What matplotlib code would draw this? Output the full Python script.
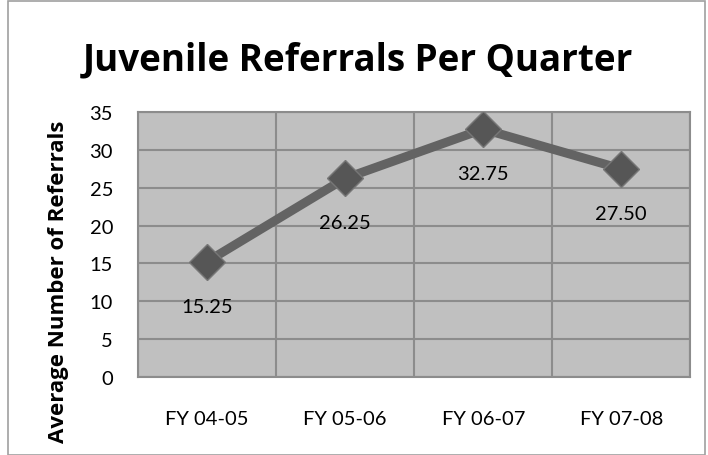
import matplotlib.pyplot as plt
from matplotlib.patches import Rectangle

years = ['FY 04-05', 'FY 05-06', 'FY 06-07', 'FY 07-08']
referrals = [15.25, 26.25, 32.75, 27.50]
point_labels = ['15.25', '26.25', '32.75', '27.50']

plt.rcParams['font.family'] = ['Lato', 'DejaVu Sans']

fig = plt.figure(figsize=(7.08, 4.56), dpi=100)
ax = fig.add_axes([0.195, 0.171, 0.78, 0.581])

# frame around the whole chart
fig.patches.append(Rectangle((0.012, 0.0), 0.984, 0.995, transform=fig.transFigure,
                             fill=False, edgecolor='#a0a0a0', linewidth=1.2))

x = range(len(years))
ax.plot(x, referrals, color='#636363', linewidth=6.5, marker='D', markersize=18,
        markerfacecolor='#565656', markeredgecolor='#777777', markeredgewidth=1, zorder=3)

for xi, yi, lab in zip(x, referrals, point_labels):
    ax.annotate(lab, (xi, yi), xytext=(0, -32), textcoords='offset points',
                ha='center', va='center', fontsize=14.5, color='black')

ax.set_xlim(-0.5, len(years) - 0.5)
ax.set_ylim(0, 35)
ax.set_yticks(range(0, 36, 5))
ax.set_xticks(list(x))
ax.set_xticklabels(years)
ax.set_xticks([i + 0.5 for i in range(-1, len(years))], minor=True)

ax.set_facecolor('#c0c0c0')
ax.grid(axis='y', which='major', color='#8c8c8c', linewidth=1.5)
ax.grid(axis='x', which='minor', color='#8c8c8c', linewidth=1.5)
ax.set_axisbelow(True)
for s in ax.spines.values():
    s.set_color('#8c8c8c')
    s.set_linewidth(1.5)

ax.tick_params(axis='both', which='both', length=0, labelsize=14.5)
ax.tick_params(axis='x', pad=24)
ax.tick_params(axis='y', pad=18)

fig.text(0.082, 0.382, 'Average Number of Referrals', rotation=90, ha='center', va='center',
         fontsize=16, fontweight='bold', family=['Open Sans', 'DejaVu Sans'])
fig.text(0.505, 0.868, 'Juvenile Referrals Per Quarter', ha='center', va='center',
         fontsize=26.5, fontweight='bold', family=['Open Sans', 'DejaVu Sans'])

plt.savefig('out.png', dpi=100)
